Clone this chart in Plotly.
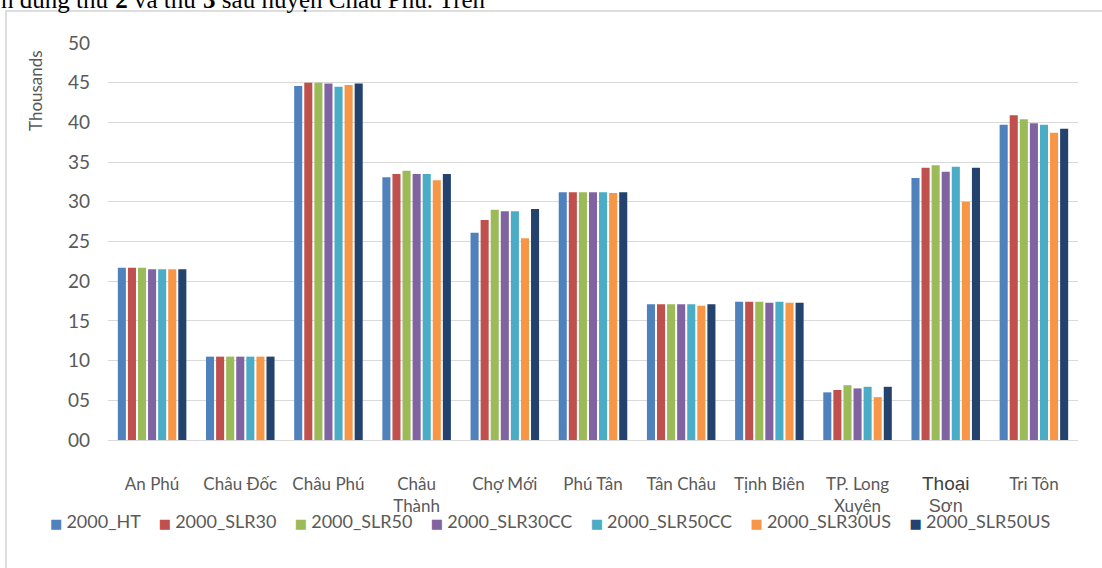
import plotly.graph_objects as go

# Districts of An Giang (category axis)
DISTRICTS = ["An Phú", "Châu Đốc", "Châu Phú", "Châu Thành", "Chợ Mới", "Phú Tân",
             "Tân Châu", "Tịnh Biên", "TP. Long Xuyên", "Thoại Sơn", "Tri Tôn"]
DISTRICT_LABELS = ["An Phú", "Châu Đốc", "Châu Phú", "Châu<br>Thành", "Chợ Mới", "Phú Tân",
                   "Tân Châu", "Tịnh Biên", "TP. Long<br>Xuyên",
                   "<span style='font-family:Liberation Sans;font-size:19px;color:#404040'>Thoại</span><br>"
                   "<span style='font-family:Liberation Sans;font-size:18px'>Sơn</span>",
                   "Tri Tôn"]

# Scenario series (thousands)
HT       = [21.7, 10.5, 44.6, 33.1, 26.1, 31.2, 17.1, 17.4, 6.0, 33.0, 39.7]
SLR30    = [21.7, 10.5, 45.0, 33.5, 27.7, 31.2, 17.1, 17.4, 6.3, 34.3, 40.9]
SLR50    = [21.7, 10.5, 45.0, 33.9, 29.0, 31.2, 17.1, 17.4, 6.9, 34.6, 40.4]
SLR30CC  = [21.5, 10.5, 44.9, 33.5, 28.8, 31.2, 17.1, 17.3, 6.5, 33.8, 39.9]
SLR50CC  = [21.5, 10.5, 44.5, 33.5, 28.8, 31.2, 17.1, 17.4, 6.7, 34.4, 39.7]
SLR30US  = [21.5, 10.5, 44.7, 32.7, 25.4, 31.1, 16.9, 17.3, 5.4, 30.0, 38.7]
SLR50US  = [21.5, 10.5, 44.9, 33.5, 29.1, 31.2, 17.1, 17.3, 6.7, 34.3, 39.2]

SERIES_NAMES = ["2000_HT", "2000_SLR30", "2000_SLR50", "2000_SLR30CC",
                "2000_SLR50CC", "2000_SLR30US", "2000_SLR50US"]
SERIES_VALUES = [HT, SLR30, SLR50, SLR30CC, SLR50CC, SLR30US, SLR50US]
COLORS = ["#4F81BD", "#C0504D", "#9BBB59", "#8064A2", "#4BACC6", "#F79646", "#23436E"]

Y_TICKS = [0, 5, 10, 15, 20, 25, 30, 35, 40, 45, 50]
Y_TICK_TEXT = ["00", "05", "10", "15", "20", "25", "30", "35", "40", "45", "50"]

W, H = 1102, 568
L, R, T, B = 108, 24, 43, 128
PW, PH = W - L - R, H - T - B


def xp(px):
    return (px - L) / PW


def yp(py):
    return (H - B - py) / PH


SANS = "Lato, sans-serif"
GREY = "#595959"
NBSP = "\u00a0"

fig = go.Figure()
for name, vals, col in zip(SERIES_NAMES, SERIES_VALUES, COLORS):
    fig.add_trace(go.Bar(name=name, x=DISTRICTS, y=vals,
                         marker=dict(color=col, line=dict(width=0))))

# Legend row built from the series names and colours
legend_html = (NBSP * 4).join(
    f"<span style='color:{c};font-size:13px;font-family:DejaVu Sans'>■{NBSP}</span>{n}"
    for n, c in zip(SERIES_NAMES, COLORS)
)

fig.update_layout(
    width=W, height=H,
    margin=dict(l=L, r=R, t=T, b=B),
    paper_bgcolor="white", plot_bgcolor="white",
    barmode="group", bargap=0.2, bargroupgap=0.2,
    showlegend=False,
    font=dict(family=SANS, color=GREY),
    xaxis=dict(
        tickmode="array", tickvals=DISTRICTS, ticktext=DISTRICT_LABELS,
        tickfont=dict(size=17, family=SANS, color=GREY), tickangle=0,
        showgrid=False, showline=False, ticks="", automargin=False,
        ticklabelstandoff=32,
    ),
    yaxis=dict(
        range=[0, 50], tickmode="array", tickvals=Y_TICKS, ticktext=Y_TICK_TEXT,
        tickfont=dict(size=19, family=SANS, color=GREY),
        showgrid=True, gridcolor="#d9d9d9", gridwidth=1,
        zeroline=True, zerolinecolor="#d9d9d9", zerolinewidth=1,
        showline=False, ticks="", automargin=False, ticklabelstandoff=17,
    ),
    shapes=[dict(type="rect", xref="paper", yref="paper",
                 x0=xp(6), x1=xp(1115), y0=yp(590), y1=yp(11),
                 line=dict(color="#d4d4d4", width=1.5), layer="below")],
    annotations=[
        dict(text="Thousands", textangle=-90, x=xp(35), y=yp(91),
             xref="paper", yref="paper", showarrow=False,
             font=dict(size=17, family=SANS, color=GREY),
             xanchor="center", yanchor="middle"),
        dict(text=legend_html, x=xp(550), y=yp(521), xref="paper", yref="paper",
             showarrow=False, xanchor="center", yanchor="middle",
             font=dict(size=18, family=SANS, color=GREY)),
        dict(text="n đúng thứ <b>2</b> và thứ <b>3</b> sau huyện Châu Phú. Trên",
             x=xp(-1), y=yp(15), xref="paper", yref="paper", showarrow=False,
             xanchor="left", yanchor="bottom",
             font=dict(size=25, family="Liberation Serif, Times New Roman, serif",
                       color="black")),
    ],
)

fig.write_html("out.html")
